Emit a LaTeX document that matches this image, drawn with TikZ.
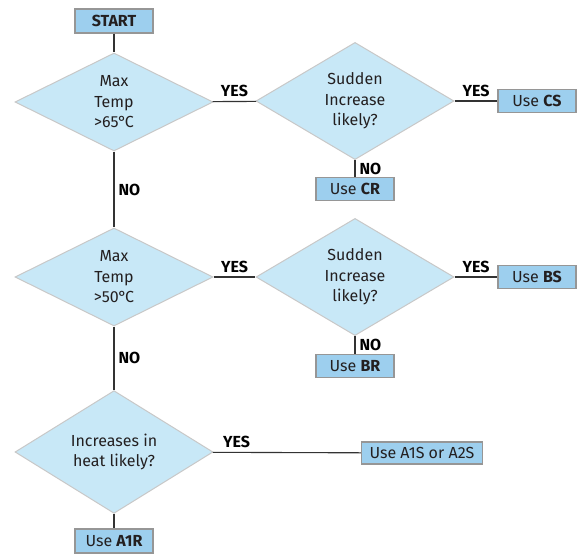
\documentclass[tikz,border=0pt]{standalone}
\usepackage{fontspec}
\setmainfont{Fira Sans}
\usetikzlibrary{shapes.geometric}
\definecolor{dfill}{RGB}{200,232,247}
\definecolor{dline}{RGB}{200,200,200}
\definecolor{bfill}{RGB}{157,207,238}
\definecolor{bline}{RGB}{150,150,150}
\definecolor{txt}{RGB}{35,31,32}
\newcommand{\degC}{\kern-0.5pt°\kern-1.5pt C}
\begin{document}
\begin{tikzpicture}[x=1pt,y=-1pt,
  font=\fontsize{16}{20.5}\selectfont, text=txt,
  dec/.style={diamond, draw=dline, line width=1pt, fill=dfill,
    minimum width=198pt, minimum height=98pt, inner sep=0pt, align=center},
  res/.style={rectangle, draw=bline, line width=1.2pt, fill=bfill,
    minimum width=78pt, minimum height=23pt, inner sep=0pt},
  conn/.style={draw=black!80, line width=1.1pt},
  lab/.style={font=\fontsize{16}{17}\selectfont\bfseries, text=black, inner sep=4pt}]
\useasboundingbox[fill=white] (0,0) rectangle (581,554);

\node[res, minimum height=24pt] (start) at (114,21) {\textbf{START}};
\node[dec] (d1) at (114,102) {Max\\Temp\\>65\degC};
\node[dec] (d2) at (355,101) {Sudden\\Increase\\likely?};
\node[res] (cs) at (537,101) {Use \textbf{CS}};
\node[res] (cr) at (355,189) {Use \textbf{CR}};

\node[dec] (d3) at (114,277) {Max\\Temp\\>50\degC};
\node[dec] (d4) at (355,277) {Sudden\\Increase\\likely?};
\node[res] (bs) at (537,277) {Use \textbf{BS}};
\node[res] (br) at (355,366) {Use \textbf{BR}};

\node[dec, minimum height=97pt] (d5) at (114,452) {Increases in\\heat likely?};
\node[res, minimum width=121pt, minimum height=22pt] (a1s) at (422,453) {Use A1S or A2S};
\node[res, minimum height=24pt] (a1r) at (114,541) {Use \textbf{A1R}};

\draw[conn] (start) -- (d1);
\draw[conn] (d1) -- node[lab, above] {YES} (d2);
\draw[conn] (d2) -- node[lab, above] {YES} (cs);
\draw[conn] (d2) -- node[lab, right] {NO} (cr);
\draw[conn] (d1) -- node[lab, right] {NO} (d3);

\draw[conn] (d3) -- node[lab, above] {YES} (d4);
\draw[conn] (d4) -- node[lab, above] {YES} (bs);
\draw[conn] (d4) -- node[lab, right] {NO} (br);
\draw[conn] (d3) -- node[lab, right] {NO} (d5);

\draw[conn] (d5) -- node[lab, above, pos=0.16] {YES} (a1s);
\draw[conn] (d5) -- (a1r);
\end{tikzpicture}
\end{document}
